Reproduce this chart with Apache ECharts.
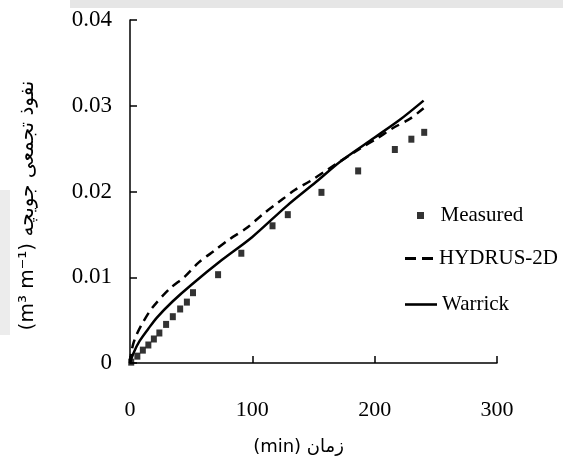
<!DOCTYPE html>
<html>
<head>
<meta charset="utf-8">
<script src="https://cdn.jsdelivr.net/npm/echarts@6/dist/echarts.min.js"></script>
<style>html,body{margin:0;padding:0;background:#fff}#c{width:563px;height:461px}</style>
</head>
<body>
<div id="c"></div>
<script>
var measuredX = [1, 6, 10.5, 15, 19.5, 24, 29.5, 35, 41, 46.5, 51.5, 72, 91, 116.5, 129, 156.5, 186.5, 216.5, 230, 240.5];
var measuredY = [0.0001, 0.0008, 0.0015, 0.0021, 0.0028, 0.0035, 0.0045, 0.0054, 0.0063, 0.0071, 0.0082, 0.0103, 0.0128, 0.0160, 0.0173, 0.0199, 0.0224, 0.0249, 0.0261, 0.0269];
var hydrusX = [0, 1, 3, 6, 10, 18, 32, 45, 56, 69, 82, 95, 109, 121, 135, 147, 162, 188, 202, 215, 229, 240];
var hydrusY = [0, 0.0012, 0.0024, 0.0035, 0.0046, 0.0064, 0.0086, 0.0101, 0.0117, 0.0131, 0.0145, 0.0157, 0.0174, 0.0187, 0.0202, 0.0212, 0.0226, 0.0250, 0.0262, 0.0274, 0.0285, 0.0297];
var warrickX = [0, 3, 8, 15, 22, 35, 50, 75, 100, 128, 152, 172, 200, 220, 240];
var warrickY = [0, 0.0012, 0.0026, 0.0040, 0.0053, 0.0072, 0.0091, 0.0120, 0.0147, 0.0183, 0.0211, 0.0235, 0.0263, 0.0283, 0.0306];
var xTicks = [0, 100, 200, 300];
var yTicks = [0, 0.01, 0.02, 0.03, 0.04];

function pairs(xs, ys) { return xs.map(function (x, i) { return [x, ys[i]]; }); }

var chart = echarts.init(document.getElementById('c'), null, {renderer: 'canvas'});
var serif = 'Liberation Serif, Times New Roman, serif';
var legendText = {fontFamily: serif, fontSize: 21, color: '#000'};
chart.setOption({
  animation: false,
  backgroundColor: '#fff',
  graphic: [
    {type: 'rect', shape: {x: 70, y: 0, width: 493, height: 8}, style: {fill: '#e6e6e6'}, silent: true, z: -10},
    {type: 'rect', shape: {x: 0, y: 190, width: 10, height: 145}, style: {fill: '#ececec'}, silent: true, z: -10}
  ],
  grid: {left: 130, right: 66, top: 20, bottom: 98},
  xAxis: {
    type: 'value', min: xTicks[0], max: xTicks[xTicks.length - 1], interval: 100,
    name: '(min) زمان', nameLocation: 'middle', nameGap: 75,
    nameTextStyle: {fontFamily: 'DejaVu Sans', fontSize: 18, color: '#000', padding: [0, 30, 0, 0]},
    axisLine: {lineStyle: {color: '#000', width: 1.5}},
    axisTick: {inside: true, length: 7, lineStyle: {color: '#000', width: 1.5}},
    axisLabel: {fontFamily: serif, fontSize: 22, color: '#000', margin: 36},
    splitLine: {show: false}
  },
  yAxis: {
    type: 'value', min: yTicks[0], max: yTicks[yTicks.length - 1], interval: 0.01,
    name: '(m³ m⁻¹) نفوذ تجمعی جویچه', nameLocation: 'middle', nameGap: 92, nameRotate: 90,
    nameTextStyle: {fontFamily: 'DejaVu Sans', fontSize: 20, color: '#000', padding: [0, 28, 0, 0]},
    axisLine: {show: true, lineStyle: {color: '#000', width: 1.5}},
    axisTick: {show: true, inside: true, length: 7, lineStyle: {color: '#000', width: 1.5}},
    axisLabel: {fontFamily: serif, fontSize: 23, color: '#000', margin: 18,
      formatter: function (v) { return v === 0 ? '0' : v.toFixed(2); }},
    splitLine: {show: false}
  },
  legend: [
    {data: [{name: 'Measured', icon: 'path://M0,0L10,0L10,10L0,10Z'}], left: 417, top: 205, padding: 0, itemWidth: 30, itemHeight: 7, textStyle: legendText, selectedMode: false},
    {data: [{name: 'HYDRUS-2D', icon: 'path://M0,0L11,0L11,3L0,3Z M17,0L28,0L28,3L17,3Z'}], left: 405, top: 248, padding: 0, itemWidth: 30, itemHeight: 3, textStyle: legendText, selectedMode: false},
    {data: [{name: 'Warrick', icon: 'path://M0,0L32,0L32,2.6L0,2.6Z'}], left: 405, top: 294, padding: 0, itemWidth: 32, itemHeight: 3, textStyle: legendText, selectedMode: false}
  ],
  series: [
    {name: 'Measured', type: 'scatter', symbol: 'rect', symbolSize: [6, 7],
      itemStyle: {color: '#000'}, data: pairs(measuredX, measuredY), z: 5},
    {name: 'HYDRUS-2D', type: 'line', showSymbol: false, symbol: 'none', smooth: 0.3,
      lineStyle: {color: '#000', width: 2.5, type: [9, 6]}, itemStyle: {color: '#000'},
      data: pairs(hydrusX, hydrusY)},
    {name: 'Warrick', type: 'line', showSymbol: false, symbol: 'none', smooth: 0.3,
      lineStyle: {color: '#000', width: 2.5}, itemStyle: {color: '#000'},
      data: pairs(warrickX, warrickY)}
  ]
});
</script>
</body>
</html>
